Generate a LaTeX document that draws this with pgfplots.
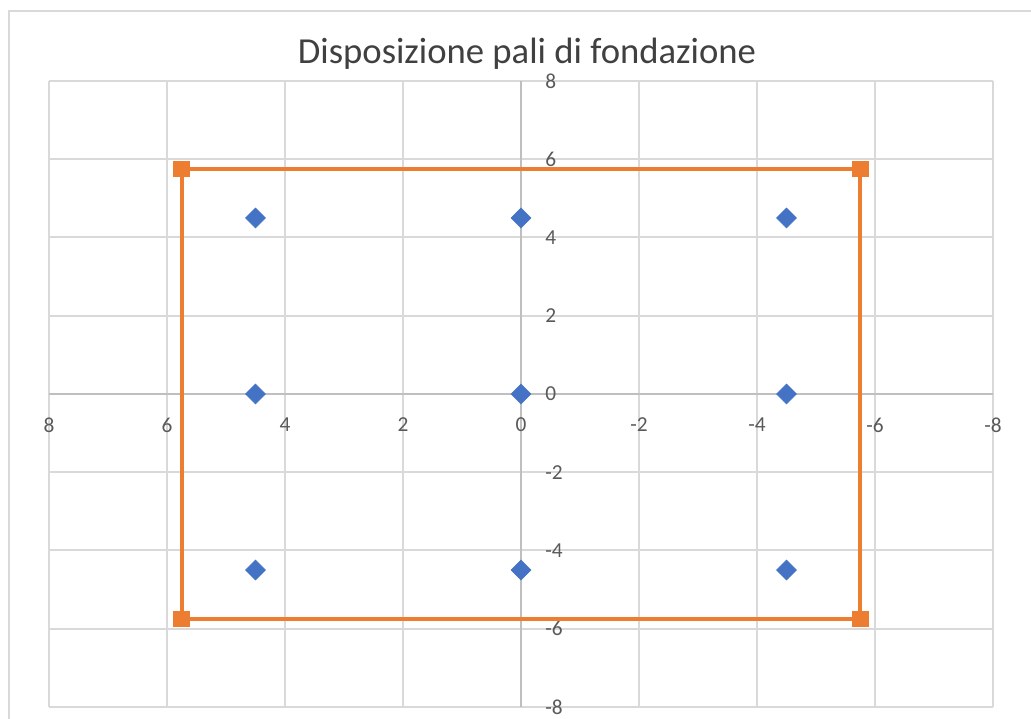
\documentclass[border=0pt]{standalone}
\usepackage{fontspec}
\setmainfont{Carlito}
\usepackage{pgfplots}
\pgfplotsset{compat=1.18}
\definecolor{gridc}{HTML}{D9D9D9}
\definecolor{axc}{HTML}{BFBFBF}
\definecolor{txt}{HTML}{595959}
\definecolor{ttl}{HTML}{404040}
\definecolor{blu}{HTML}{4472C4}
\definecolor{org}{HTML}{ED7D31}
\begin{document}
\begin{tikzpicture}
\useasboundingbox (-36.75pt,-8.25pt) rectangle (736.5pt,530.25pt);
\draw[gridc, line width=1.5pt] (-30pt,-30pt) -- (-30pt,522pt) -- (760pt,522pt);
\begin{axis}[
  at={(0pt,0pt)}, anchor=south west,
  scale only axis, width=708pt, height=469.5pt,
  xmin=-8, xmax=8, ymin=-8, ymax=8,
  enlargelimits=false,
  x dir=reverse,
  axis lines=middle,
  axis line style={-, draw=axc, line width=1.5pt},
  xtick={-8,-6,...,8}, ytick={-8,-6,...,8},
  grid=major, grid style={draw=gridc, line width=1.5pt},
  major tick length=0pt,
  hide obscured x ticks=false, hide obscured y ticks=false,
  tick label style={font=\fontsize{16}{19}\selectfont, text=txt},
  /pgf/number format/assume math mode=true,
  xticklabel style={anchor=center, yshift=-23.25pt},
  yticklabel style={anchor=west, xshift=17pt, inner sep=1pt},
  clip=false,
]
\addplot[org, line width=3pt, mark=square*, mark size=4.75pt, mark options={solid}]
  coordinates {(5.75,5.75) (-5.75,5.75) (-5.75,-5.75) (5.75,-5.75) (5.75,5.75)};
\addplot[only marks, blu, mark=square*, mark size=5.3pt, mark options={rotate=45}]
  coordinates {(4.5,4.5) (0,4.5) (-4.5,4.5) (4.5,0) (0,0) (-4.5,0) (4.5,-4.5) (0,-4.5) (-4.5,-4.5)};
\end{axis}
\node[text=ttl, inner sep=0pt, font=\fontsize{27.5}{32}\selectfont, anchor=base] at (358.5pt,482.5pt) {Disposizione pali di fondazione};
\end{tikzpicture}
\end{document}
